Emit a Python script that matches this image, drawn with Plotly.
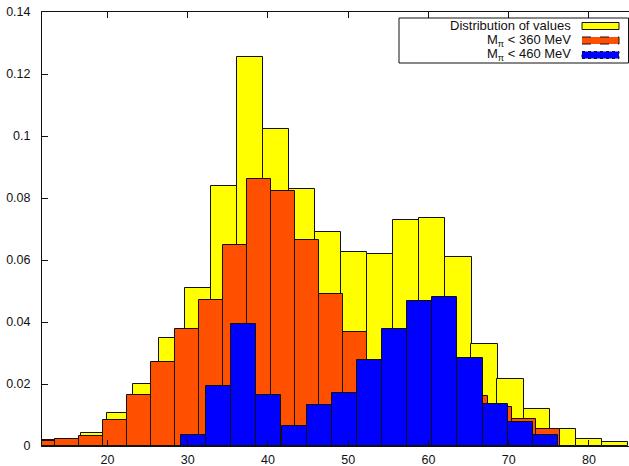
import plotly.graph_objects as go

# Distribution of values (yellow) - bin centres and heights
all_x = [11.84, 15.08, 18.32, 21.57, 24.81, 28.06, 31.30, 34.55, 37.79, 41.04, 44.28, 47.52,
         50.77, 54.01, 57.26, 60.50, 63.75, 66.99, 70.23, 73.48, 76.72, 79.97, 83.21]
all_y = [0.0018, 0.0023, 0.0043, 0.0107, 0.0200, 0.0347, 0.0510, 0.0840, 0.1255, 0.1021, 0.0830, 0.0690,
         0.0625, 0.0620, 0.0728, 0.0737, 0.0610, 0.0330, 0.0217, 0.0119, 0.0054, 0.0023, 0.0012]
all_w = 3.244

# M_pi < 360 MeV (orange)
m360_x = [11.96, 14.96, 17.95, 20.95, 23.94, 26.94, 29.93, 32.93, 35.92, 38.92, 41.91, 44.91,
          47.90, 50.90, 53.89, 56.89, 59.88, 62.88, 65.87, 68.87, 71.86, 74.86]
m360_y = [0.0016, 0.0021, 0.0032, 0.0085, 0.0163, 0.0271, 0.0376, 0.0471, 0.0648, 0.0860, 0.0823, 0.0665,
          0.0489, 0.0367, 0.0220, 0.0250, 0.0300, 0.0220, 0.0160, 0.0126, 0.0088, 0.0055]
m360_w = 2.995

# M_pi < 460 MeV (blue)
m460_x = [30.73, 33.86, 36.99, 40.12, 43.26, 46.39, 49.52, 52.65, 55.79, 58.92, 62.05, 65.18,
          68.31, 71.45, 74.58]
m460_y = [0.0034, 0.0195, 0.0392, 0.0164, 0.0063, 0.0131, 0.0172, 0.0279, 0.0376, 0.0468, 0.0481, 0.0284,
          0.0136, 0.0079, 0.0034]
m460_w = 3.132

x_ticks = [20, 30, 40, 50, 60, 70, 80]
y_ticks = [0, 0.02, 0.04, 0.06, 0.08, 0.1, 0.12, 0.14]
y_labels = ["0", "0.02", "0.04", "0.06", "0.08", "0.1", "0.12", "0.14"]

series_names = ["Distribution of values", "M<sub>π</sub> &lt; 360 MeV", "M<sub>π</sub> &lt; 460 MeV"]
series_colors = ["#FFFF00", "#FF5000", "#0000FF"]
series_dash = ["solid", "dash", "dot"]

FONT = "Liberation Sans, Arial, Helvetica, sans-serif"
INK = "#111111"

# plot-area geometry in pixels (used to place the legend box in paper units)
W, H = 629, 466
ML, MR, MT, MB = 42, 0, 12, 20
PW, PH = W - ML - MR, H - MT - MB


def px(x):
    return (x - ML) / PW


def py(y):
    return (H - MB - y) / PH


fig = go.Figure()
for xs, ys, w, name, col in zip([all_x, m360_x, m460_x], [all_y, m360_y, m460_y],
                                [all_w, m360_w, m460_w], series_names, series_colors):
    fig.add_trace(go.Bar(x=xs, y=ys, width=w, name=name, showlegend=False,
                         marker=dict(color=col, line=dict(color=INK, width=1))))

# gnuplot-style key: text right-aligned, sample box on the right
shapes = [dict(type="rect", xref="paper", yref="paper",
               x0=px(399), x1=px(628.5), y0=py(63), y1=py(18),
               line=dict(color=INK, width=1), fillcolor="white", layer="above")]
annotations = []
row_y = [26, 40.5, 55]
for name, col, dash, yy in zip(series_names, series_colors, series_dash, row_y):
    shapes.append(dict(type="rect", xref="paper", yref="paper",
                       x0=px(582), x1=px(619), y0=py(yy + 3.5), y1=py(yy - 3.5),
                       line=dict(color=INK, width=1, dash=dash), fillcolor=col, layer="above"))
    annotations.append(dict(xref="paper", yref="paper", x=px(573), y=py(yy),
                            xanchor="right", yanchor="middle", showarrow=False,
                            text=name, font=dict(family=FONT, size=13, color=INK)))

fig.update_layout(
    width=W, height=H,
    margin=dict(l=ML, r=MR, t=MT, b=MB, autoexpand=False),
    paper_bgcolor="white", plot_bgcolor="white",
    barmode="overlay", bargap=0,
    font=dict(family=FONT, size=12.5, color=INK),
    showlegend=False,
    shapes=shapes, annotations=annotations,
)
fig.update_xaxes(range=[11.84, 85.0], tickmode="array", tickvals=x_ticks,
                 ticks="inside", ticklen=6, tickcolor=INK, automargin=False,
                 showline=True, linecolor=INK, linewidth=1, mirror="ticks",
                 showgrid=False, zeroline=False, ticklabelstandoff=2)
fig.update_yaxes(range=[0, 0.14], tickmode="array", tickvals=y_ticks, ticktext=y_labels,
                 ticks="inside", ticklen=6, tickcolor=INK, automargin=False,
                 showline=True, linecolor=INK, linewidth=1, mirror=False,
                 showgrid=False, zeroline=False, ticklabelstandoff=8)

fig.write_html("out.html", config={"displayModeBar": False},
               post_script="document.body.style.margin='0';document.body.style.overflow='hidden';")
